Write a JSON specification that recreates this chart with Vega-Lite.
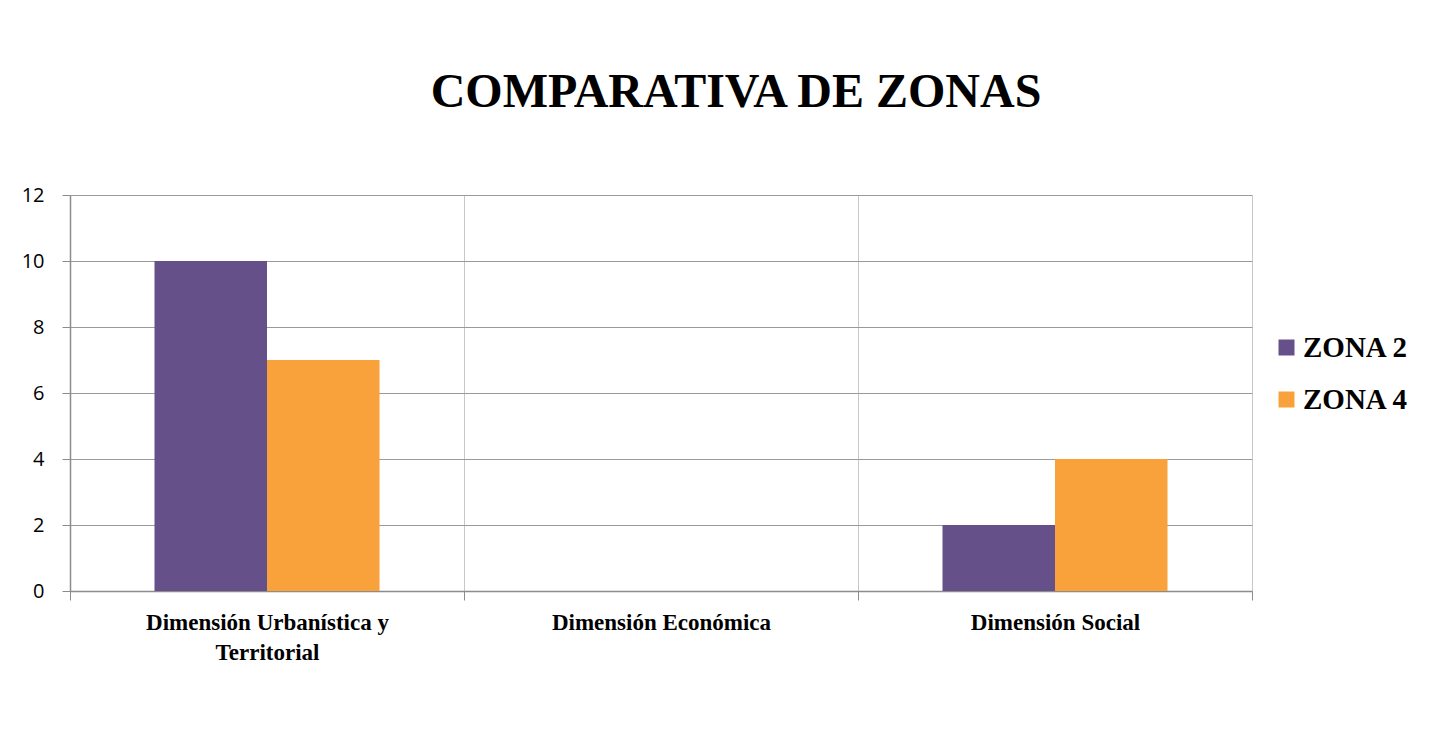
{
  "$schema": "https://vega.github.io/schema/vega-lite/v6.json",
  "autosize": "none",
  "width": 1182,
  "height": 396,
  "padding": {"left": 70, "top": 195, "right": 189, "bottom": 140},
  "background": "white",
  "title": {
    "text": "COMPARATIVA DE ZONAS",
    "font": "Liberation Serif",
    "fontSize": 48,
    "fontWeight": "bold",
    "color": "black",
    "anchor": "middle",
    "frame": "group",
    "dx": 75,
    "baseline": "alphabetic",
    "offset": 30
  },
  "data": {
    "values": [
      {"dimension": "Dimensión Urbanística y Territorial", "zona": "ZONA 2", "value": 10},
      {"dimension": "Dimensión Urbanística y Territorial", "zona": "ZONA 4", "value": 7},
      {"dimension": "Dimensión Económica", "zona": "ZONA 2", "value": 0},
      {"dimension": "Dimensión Económica", "zona": "ZONA 4", "value": 0},
      {"dimension": "Dimensión Social", "zona": "ZONA 2", "value": 2},
      {"dimension": "Dimensión Social", "zona": "ZONA 4", "value": 4}
    ]
  },
  "mark": {"type": "bar"},
  "encoding": {
    "x": {
      "field": "dimension",
      "type": "nominal",
      "sort": null,
      "scale": {"paddingInner": 0, "paddingOuter": 0},
      "axis": {
        "title": null,
        "labelAngle": 0,
        "tickBand": "extent",
        "grid": true,
        "gridColor": "#c8c8c8",
        "gridWidth": 1,
        "domainColor": "#8c8c8c",
        "domainWidth": 1.5,
        "tickColor": "#8c8c8c",
        "tickSize": 9,
        "labelFont": "Liberation Serif",
        "labelFontWeight": "bold",
        "labelFontSize": 23,
        "labelColor": "black",
        "labelPadding": 11,
        "labelLineHeight": 30,
        "labelBaseline": "top",
        "labelLimit": 0,
        "labelOverlap": false,
        "labelExpr": "datum.label == 'Dimensión Urbanística y Territorial' ? ['Dimensión Urbanística y', 'Territorial'] : datum.label"
      }
    },
    "xOffset": {
      "field": "zona",
      "type": "nominal",
      "scale": {"paddingInner": 0, "paddingOuter": 0.751}
    },
    "y": {
      "field": "value",
      "type": "quantitative",
      "scale": {"domain": [0, 12], "nice": false},
      "axis": {
        "title": null,
        "values": [0, 2, 4, 6, 8, 10, 12],
        "grid": true,
        "gridColor": "#9a9a9a",
        "gridWidth": 1.2,
        "domainColor": "#8c8c8c",
        "domainWidth": 1.5,
        "tickColor": "#8c8c8c",
        "tickSize": 8,
        "labelFont": "Open Sans",
        "labelFontSize": 20,
        "labelColor": "black",
        "labelPadding": 18
      }
    },
    "color": {
      "field": "zona",
      "type": "nominal",
      "scale": {"domain": ["ZONA 2", "ZONA 4"], "range": ["#66508a", "#f9a23c"]},
      "legend": {
        "title": null,
        "orient": "none",
        "legendX": 1202,
        "legendY": 138,
        "symbolType": "square",
        "symbolSize": 256,
        "symbolStrokeWidth": 0,
        "symbolOpacity": 1,
        "labelFont": "Liberation Serif",
        "labelFontWeight": "bold",
        "labelFontSize": 29,
        "labelColor": "black",
        "labelOffset": 2,
        "rowPadding": 22
      }
    }
  },
  "config": {
    "view": {"stroke": null}
  }
}
